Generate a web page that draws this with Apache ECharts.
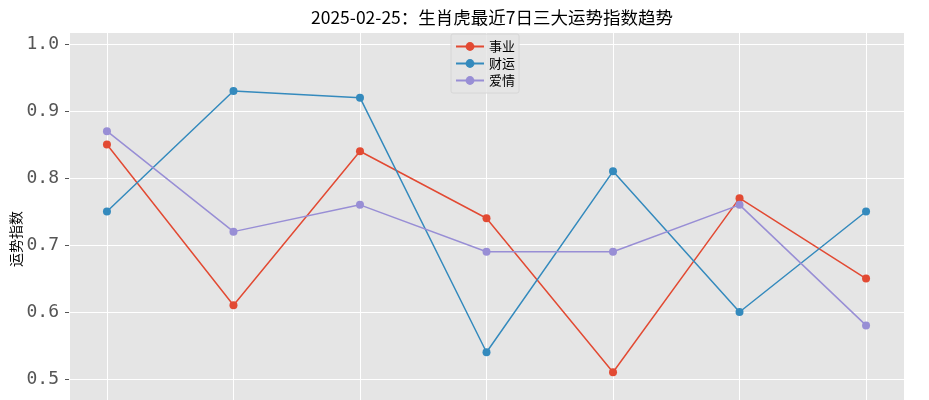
<!DOCTYPE html>
<html><head><meta charset="utf-8">
<script src="https://cdn.jsdelivr.net/npm/echarts@6/dist/echarts.min.js"></script>
<style>html,body{margin:0;padding:0;background:#fff}#c{width:929px;height:400px}</style>
</head><body><div id="c"></div>
<script>
const titleText = '2025-02-25：生肖虎最近7日三大运势指数趋势';
const days = [0, 1, 2, 3, 4, 5, 6];
const career = [0.85, 0.61, 0.84, 0.74, 0.51, 0.77, 0.65];
const wealth = [0.75, 0.93, 0.92, 0.54, 0.81, 0.60, 0.75];
const love   = [0.87, 0.72, 0.76, 0.69, 0.69, 0.76, 0.58];
const seriesNames = ['事业', '财运', '爱情'];
const colors = ['#E24A33', '#348ABD', '#988ED5'];

const font = '"Noto Sans CJK SC", "DejaVu Sans", sans-serif';
const chart = echarts.init(document.getElementById('c'));
function pairs(arr) { return arr.map((v, i) => [days[i], v]); }
const mk = (name, arr, color) => ({
  name, type: 'line', data: pairs(arr),
  symbol: 'circle', symbolSize: 8,
  lineStyle: { width: 1.5, color }, itemStyle: { color },
  emphasis: { disabled: true }
});
chart.setOption({
  animation: false,
  title: { text: titleText, left: 487, top: 4, textAlign: 'center',
    textStyle: { fontFamily: font, fontSize: 17.5, fontWeight: 'normal', color: '#000' } },
  legend: {
    orient: 'vertical', left: 451, top: 34, itemWidth: 28, itemHeight: 11, itemGap: 4,
    padding: [6, 4, 6, 4],
    backgroundColor: 'rgba(229,229,229,0.8)', borderColor: '#d6d6d6', borderWidth: 1, borderRadius: 2,
    textStyle: { fontFamily: font, fontSize: 13, color: '#000' },
    data: seriesNames
  },
  grid: { left: 69, right: 25, top: 32, height: 414, show: true, backgroundColor: '#E5E5E5', borderWidth: 0,
    outerBoundsMode: 'none', containLabel: false },
  xAxis: {
    type: 'value', min: -0.3, max: 6.3, minInterval: 1, maxInterval: 1,
    axisLine: { show: false, onZero: false }, axisTick: { show: false }, axisLabel: { show: false },
    splitLine: { show: true, lineStyle: { color: '#fff', width: 1 } }
  },
  yAxis: {
    type: 'value', min: 0.4, max: 1.018, interval: 0.1,
    name: '运势指数', nameLocation: 'middle', nameGap: 46, nameMoveOverlap: false,
    nameTextStyle: { fontFamily: font, fontSize: 14, color: '#000' },
    axisLine: { show: false, onZero: false },
    axisTick: { show: true, length: 4, lineStyle: { color: '#555', width: 1 } },
    axisLabel: { fontFamily: '"DejaVu Sans Mono", monospace', fontSize: 18, color: '#555', margin: 10, showMaxLabel: false,
      formatter: v => v.toFixed(1) },
    splitLine: { show: true, lineStyle: { color: '#fff', width: 1 } }
  },
  series: [mk(seriesNames[0], career, colors[0]), mk(seriesNames[1], wealth, colors[1]), mk(seriesNames[2], love, colors[2])]
});
</script></body></html>
